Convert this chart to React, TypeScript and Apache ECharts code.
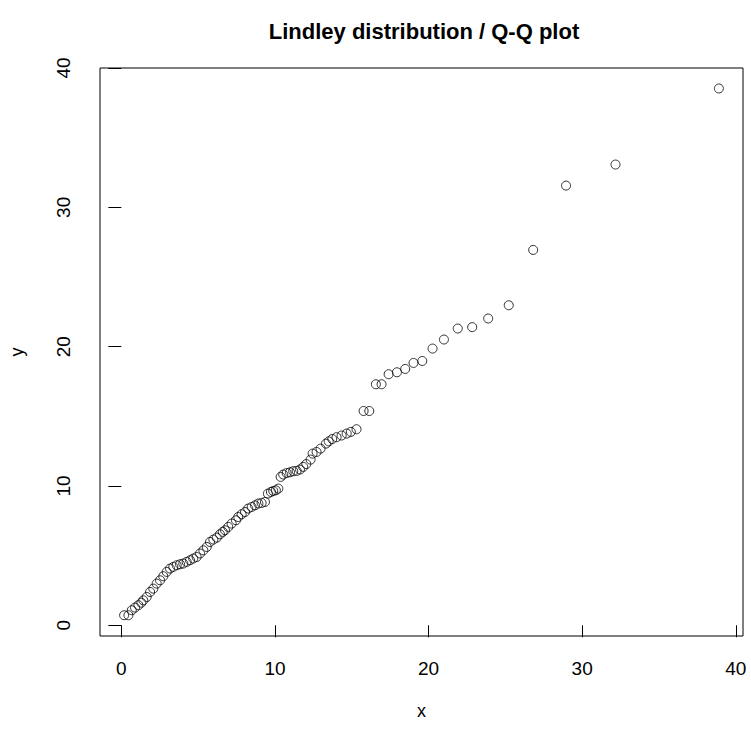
import React, { useEffect, useRef } from "react";
import * as echarts from "echarts";

// Theoretical quantiles (x) of the Lindley distribution vs. sorted sample (y)
const theoretical: number[] = [
  0.18, 0.46, 0.68, 0.89, 1.11, 1.3, 1.43, 1.65, 1.87, 2.08,
  2.3, 2.52, 2.73, 2.95, 3.17, 3.38, 3.6, 3.82, 4.03, 4.25,
  4.47, 4.68, 4.9, 5.12, 5.34, 5.56, 5.77, 5.99, 6.21, 6.42,
  6.6, 6.75, 6.96, 7.18, 7.46, 7.61, 7.83, 8.05, 8.26, 8.48,
  8.7, 8.92, 9.13, 9.35, 9.54, 9.74, 9.89, 10.06, 10.22, 10.37,
  10.54, 10.76, 10.98, 11.19, 11.41, 11.63, 11.84, 12.04, 12.32, 12.45,
  12.71, 12.97, 13.32, 13.5, 13.73, 14.01, 14.34, 14.67, 14.94, 15.31,
  15.77, 16.14, 16.57, 16.94, 17.4, 17.94, 18.48, 19.02, 19.59, 20.26,
  21.0, 21.9, 22.84, 23.88, 25.22, 26.81, 28.95, 32.17, 38.9,
];
const sample: number[] = [
  0.72, 0.72, 1.08, 1.27, 1.44, 1.62, 1.79, 2.03, 2.39, 2.63,
  2.99, 3.23, 3.52, 3.83, 4.07, 4.19, 4.31, 4.38, 4.43, 4.55,
  4.67, 4.79, 4.9, 5.15, 5.38, 5.62, 5.98, 6.15, 6.29, 6.53,
  6.7, 6.82, 7.06, 7.3, 7.54, 7.77, 7.97, 8.13, 8.38, 8.49,
  8.61, 8.74, 8.78, 8.85, 9.45, 9.57, 9.64, 9.69, 9.81, 10.65,
  10.82, 10.93, 10.98, 11.06, 11.08, 11.18, 11.37, 11.57, 11.89, 12.32,
  12.44, 12.68, 13.04, 13.2, 13.37, 13.5, 13.62, 13.76, 13.88, 14.07,
  15.38, 15.38, 17.3, 17.3, 18.02, 18.16, 18.4, 18.83, 18.97, 19.86,
  20.51, 21.3, 21.4, 22.02, 22.97, 26.94, 31.56, 33.07, 38.53,
];
const xTicks: number[] = [0, 10, 20, 30, 40];
const yTicks: number[] = [0, 10, 20, 30, 40];

const FONT = "Liberation Sans, Arial, sans-serif";

export default function App() {
  const ref = useRef<HTMLDivElement>(null);
  useEffect(() => {
    if (!ref.current) return;
    const chart = echarts.init(ref.current, null, { renderer: "svg" });
    const data = theoretical.map((x, i) => [x, sample[i]]);
    chart.setOption({
      animation: false,
      backgroundColor: "#ffffff",
      graphic: [
        {
          type: "text",
          x: 424,
          y: 31,
          style: {
            text: "Lindley distribution / Q-Q plot",
            fill: "#000",
            font: `bold 22px ${FONT}`,
            textAlign: "center",
            textVerticalAlign: "middle",
          },
        },
      ],
      grid: {
        left: 100,
        right: 8,
        top: 68,
        bottom: 104,
        show: true,
        borderColor: "#000",
        borderWidth: 1,
        backgroundColor: "transparent",
      },
      xAxis: {
        type: "value",
        min: -1.39,
        max: 40.47,
        name: "x",
        nameLocation: "middle",
        nameGap: 66,
        nameTextStyle: { color: "#000", fontSize: 18, fontFamily: FONT },
        axisLine: { show: false },
        axisTick: {
          show: true,
          inside: false,
          length: 12,
          customValues: xTicks,
          lineStyle: { color: "#000", width: 1 },
        },
        axisLabel: {
          customValues: xTicks,
          color: "#000",
          fontSize: 19,
          fontFamily: FONT,
          margin: 23,
        },
        splitLine: { show: false },
      },
      yAxis: {
        type: "value",
        min: -0.77,
        max: 40.0,
        name: "y",
        nameLocation: "middle",
        nameGap: 74,
        nameRotate: 90,
        nameTextStyle: { color: "#000", fontSize: 18, fontFamily: FONT },
        axisLine: { show: false },
        axisTick: {
          show: true,
          inside: false,
          length: 13,
          customValues: yTicks,
          lineStyle: { color: "#000", width: 1 },
        },
        axisLabel: {
          customValues: yTicks,
          color: "#000",
          fontSize: 19,
          fontFamily: FONT,
          rotate: 90,
          margin: 27,
        },
        splitLine: { show: false },
      },
      series: [
        {
          type: "scatter",
          data,
          symbol: "circle",
          symbolSize: 9,
          itemStyle: {
            color: "rgba(0,0,0,0)",
            borderColor: "#000",
            borderWidth: 1,
          },
          emphasis: { disabled: true },
        },
      ],
    });
    return () => chart.dispose();
  }, []);
  return (
    <div
      ref={ref}
      style={{ position: "absolute", left: 0, top: 0, width: 751, height: 740 }}
    />
  );
}
